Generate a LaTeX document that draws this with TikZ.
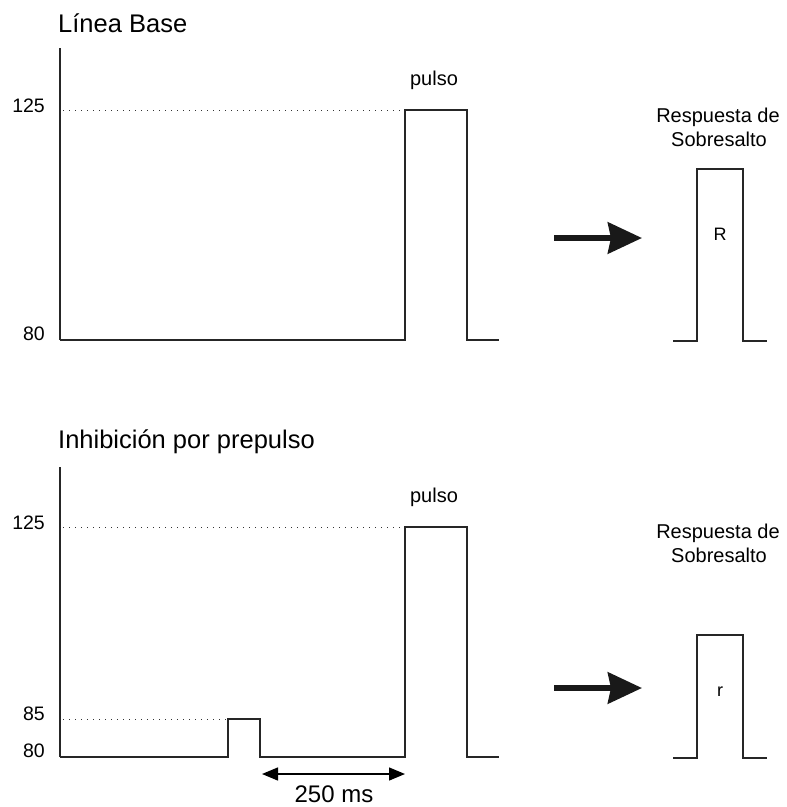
\documentclass[tikz,border=0pt]{standalone}
\usepackage{fontspec}
\setmainfont{Liberation Sans}
\usetikzlibrary{arrows.meta}
\begin{document}
\begin{tikzpicture}[x=1pt,y=-1pt,
  sig/.style={line width=1.4pt, color=black!85, line join=miter},
  dots/.style={line width=1pt, dash pattern=on 1.2pt off 4.8pt, color=black!80},
  lbl/.style={font=\fontsize{19.5}{22}\selectfont, anchor=base east, inner sep=0pt},
  ttl/.style={font=\fontsize{25.5}{28}\selectfont, anchor=base west, inner sep=0pt},
  small/.style={font=\fontsize{20}{24}\selectfont, inner sep=0pt, align=center, anchor=base},
  bigarrow/.style={line width=6pt, -{Stealth[length=34pt,width=31pt,inset=3pt]}, color=black!90},
  dblarrow/.style={line width=1.4pt, {Triangle[length=16pt,width=13pt]}-{Triangle[length=16pt,width=13pt]}}]
\useasboundingbox (0,0) rectangle (787,807);

% ---------- top panel ----------
\node[ttl] (t1) at (58,32) {Línea Base};
\draw[sig] (60,48) -- (60,340);
\draw[dots] (63,110) -- (404,110);
\node[lbl] (l125a) at (45,112) {125};
\node[lbl] (l80a) at (45,340) {80};
\draw[sig] (60,340) -- (405,340) -- (405,110) -- (467,110) -- (467,340) -- (499,340);
\node[small] (p1) at (434,85) {pulso};
\coordinate (a1s) at (554,238);
\coordinate (a1e) at (642,238);
\draw[bigarrow] (a1s) -- (a1e);
\node[small] (r1a) at (718,122) {Respuesta de};
\node[small] (r1b) at (719,146) {Sobresalto};
\draw[sig] (673,341) -- (697,341) -- (697,169) -- (743,169) -- (743,341) -- (767,341);
\node[small, font=\fontsize{18}{20}\selectfont] (R) at (720,240) {R};

% ---------- bottom panel ----------
\node[ttl] (t2) at (58,448) {Inhibición por prepulso};
\draw[sig] (60,467) -- (60,757);
\draw[dots] (63,527) -- (404,527);
\draw[dots] (63,719) -- (227,719);
\node[lbl] (l125b) at (45,529) {125};
\node[lbl] (l85b) at (45,720) {85};
\node[lbl] (l80b) at (45,757) {80};
\draw[sig] (60,757) -- (228,757) -- (228,719) -- (260,719) -- (260,757) -- (405,757) -- (405,527) -- (467,527) -- (467,757) -- (499,757);
\node[small] (p2) at (434,502) {pulso};
\coordinate (d1) at (262,774);
\coordinate (d2) at (405,774);
\draw[dblarrow] (d1) -- (d2);
\node[small, font=\fontsize{24}{26}\selectfont] (ms) at (334,802) {250 ms};
\coordinate (a2s) at (554,688);
\coordinate (a2e) at (642,688);
\draw[bigarrow] (a2s) -- (a2e);
\node[small] (r2a) at (718,538) {Respuesta de};
\node[small] (r2b) at (719,562) {Sobresalto};
\draw[sig] (673,758) -- (697,758) -- (697,635) -- (743,635) -- (743,758) -- (767,758);
\node[small, font=\fontsize{18}{20}\selectfont] (r) at (720,696) {r};
\end{tikzpicture}
\end{document}
